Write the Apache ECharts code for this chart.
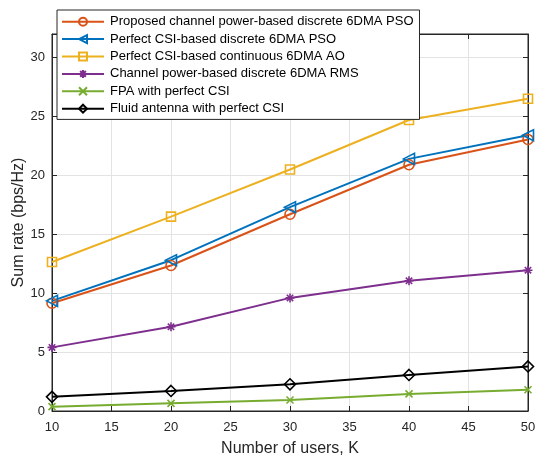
<!DOCTYPE html>
<html>
<head>
<meta charset="utf-8">
<script src="https://cdn.jsdelivr.net/npm/echarts@6/dist/echarts.min.js"></script>
<style>
  html, body { margin: 0; padding: 0; background: #fff; overflow: hidden; }
  #chart { width: 535px; height: 457px; }
</style>
</head>
<body>
<div id="chart"></div>
<script>
// Number of users K
const users = [10, 20, 30, 40, 50];

// Sum rate (bps/Hz) for each scheme
const proposedPso   = [9.15, 12.35, 16.7, 20.9, 23.05];
const perfectPso    = [9.35, 12.8, 17.3, 21.4, 23.4];
const continuousAo  = [12.65, 16.5, 20.5, 24.7, 26.5];
const channelRms    = [5.4, 7.15, 9.6, 11.05, 11.95];
const fpa           = [0.37, 0.65, 0.93, 1.45, 1.8];
const fluidAntenna  = [1.2, 1.7, 2.27, 3.06, 3.78];

const seriesNames = [
  'Proposed channel power-based discrete 6DMA PSO',
  'Perfect CSI-based discrete 6DMA PSO',
  'Perfect CSI-based continuous 6DMA AO',
  'Channel power-based discrete 6DMA RMS',
  'FPA with perfect CSI',
  'Fluid antenna with perfect CSI'
];

const xTicks = { min: 10, max: 50, step: 5 };
const yTicks = { min: 0, max: 32, step: 5 };

const FONT = "'Liberation Sans', Arial, Helvetica, sans-serif";
const INK = '#262626';

const SYM = {
  circle: 'circle',
  leftTri: 'path://M0,5L8.66,0L8.66,10Z',
  square: 'rect',
  asterisk: 'path://M0,-5L0,5M-5,0L5,0M-3.54,-3.54L3.54,3.54M-3.54,3.54L3.54,-3.54',
  cross: 'path://M-5,-5L5,5M-5,5L5,-5',
  diamond: 'diamond'
};

function pairs(vals) { return users.map((k, i) => [k, vals[i]]); }

function makeSeries(name, vals, color, symbol, size) {
  return {
    name: name,
    type: 'line',
    data: pairs(vals),
    symbol: symbol,
    symbolSize: size,
    showAllSymbol: true,
    lineStyle: { color: color, width: 2 },
    itemStyle: { color: 'none', borderColor: color, borderWidth: 1.6 },
    emphasis: { disabled: true },
    animation: false
  };
}

const series = [
  makeSeries(seriesNames[0], proposedPso,  '#D95319', SYM.circle, 10),
  makeSeries(seriesNames[1], perfectPso,   '#0072BD', SYM.leftTri, 11),
  makeSeries(seriesNames[2], continuousAo, '#EDB120', SYM.square, 9),
  makeSeries(seriesNames[3], channelRms,   '#7E2F8E', SYM.asterisk, 9),
  makeSeries(seriesNames[4], fpa,          '#77AC30', SYM.cross, 7),
  makeSeries(seriesNames[5], fluidAntenna, '#000000', SYM.diamond, 11)
];

const chart = echarts.init(document.getElementById('chart'), null, { renderer: 'canvas' });

const grid = {
  left: 52, right: 7, top: 34, bottom: 46,
  show: true, borderColor: INK, borderWidth: 1,
  containLabel: false, outerBoundsMode: 'none'
};

chart.setOption({
  backgroundColor: '#ffffff',
  animation: false,
  grid: grid,
  legend: {
    data: seriesNames,
    orient: 'vertical',
    left: 57,
    top: 10,
    itemWidth: 42,
    itemHeight: 10,
    itemGap: 0,
    padding: [3, 6, 2, 4],
    backgroundColor: '#ffffff',
    borderColor: INK,
    borderWidth: 1,
    borderRadius: 0,
    selectedMode: false,
    textStyle: { fontFamily: FONT, fontSize: 13, color: '#000', lineHeight: 17.4, padding: [0, 0, 0, 1] }
  },
  xAxis: [{
    type: 'value',
    min: xTicks.min, max: xTicks.max, interval: xTicks.step,
    name: 'Number of users, K',
    nameLocation: 'middle',
    nameGap: 30,
    nameMoveOverlap: false,
    nameTextStyle: { fontFamily: FONT, fontSize: 16, color: INK },
    axisLine: { show: true, onZero: false, lineStyle: { color: INK, width: 1 } },
    axisTick: { show: true, inside: true, length: 5, lineStyle: { color: INK } },
    axisLabel: { fontFamily: FONT, fontSize: 13, color: INK, margin: 10 },
    splitLine: { show: true, lineStyle: { color: '#e3e3e3', width: 1 } }
  }, {
    type: 'value', position: 'top',
    min: xTicks.min, max: xTicks.max, interval: xTicks.step,
    axisLine: { show: true, onZero: false, lineStyle: { color: INK } },
    axisTick: { show: true, inside: true, length: 5, lineStyle: { color: INK } },
    axisLabel: { show: false },
    splitLine: { show: false }
  }],
  yAxis: [{
    type: 'value',
    min: yTicks.min, max: yTicks.max, interval: yTicks.step,
    name: 'Sum rate (bps/Hz)',
    nameLocation: 'middle',
    nameRotate: 90,
    nameGap: 25,
    nameMoveOverlap: false,
    nameTextStyle: { fontFamily: FONT, fontSize: 16, color: INK },
    axisLine: { show: true, onZero: false, lineStyle: { color: INK, width: 1 } },
    axisTick: { show: true, inside: true, length: 5, lineStyle: { color: INK } },
    axisLabel: { fontFamily: FONT, fontSize: 13, color: INK, margin: 7, showMaxLabel: false,
      formatter: v => (v % yTicks.step === 0 ? String(v) : '') },
    splitLine: { show: true, lineStyle: { color: '#e3e3e3', width: 1 } }
  }, {
    type: 'value', position: 'right',
    min: yTicks.min, max: yTicks.max, interval: yTicks.step,
    axisLine: { show: true, onZero: false, lineStyle: { color: INK } },
    axisTick: { show: true, inside: true, length: 5, lineStyle: { color: INK } },
    axisLabel: { show: false },
    splitLine: { show: false }
  }],
  series: series
});
</script>
</body>
</html>
